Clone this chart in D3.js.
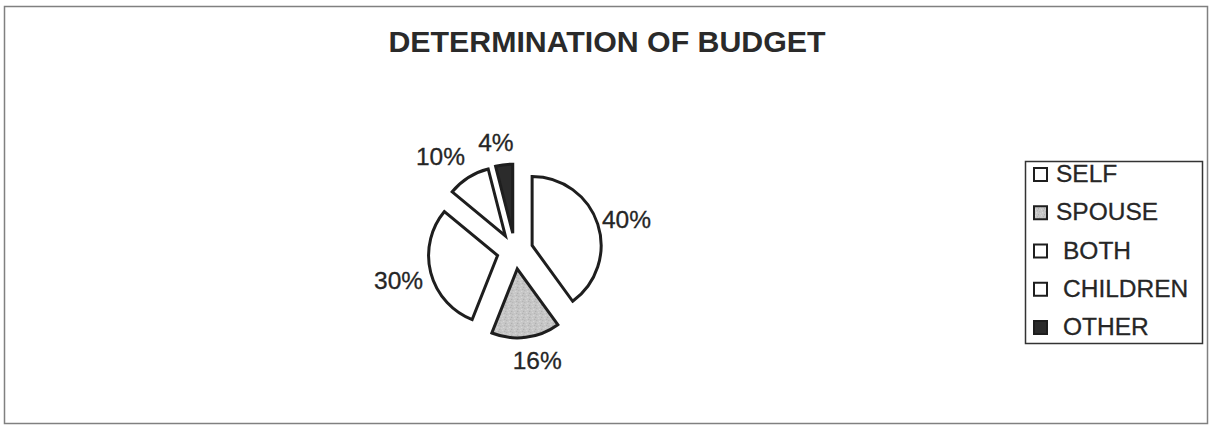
<!DOCTYPE html>
<html>
<head>
<meta charset="utf-8">
<script src="https://cdn.jsdelivr.net/npm/d3@7"></script>
<style>
  html, body { margin: 0; padding: 0; background: #ffffff; }
  svg { display: block; font-family: "Liberation Sans", Arial, sans-serif; }
</style>
</head>
<body>
<svg id="chart" width="1210" height="425"></svg>
<script>
// Who sets the household budget (share of respondents)
const categories = ["SELF", "SPOUSE", "BOTH", "CHILDREN", "OTHER"];
const shares = [40, 16, 30, 10, 4];
const pctLabels = ["40%", "16%", "30%", "10%", "4%"];
const chartTitle = "DETERMINATION OF BUDGET";

// slice fills, in category order
const fills = ["#ffffff", "url(#stipple)", "#ffffff", "#ffffff", "#2b2b2b"];
// small shifts that keep neighbouring percentage labels apart
const labelNudge = [[4, 3], [8, -3], [-7, 1], [-14, 1], [-5, 3]];

const svg = d3.select("#chart");
const ink = "#1e1e1e";

// stippled grey texture for the SPOUSE slice
const defs = svg.append("defs");
const pat = defs.append("pattern")
  .attr("id", "stipple").attr("patternUnits", "userSpaceOnUse")
  .attr("width", 6).attr("height", 6);
pat.append("rect").attr("width", 6).attr("height", 6).attr("fill", "#c6c6c6");
[[0,0,"#a4a4a4"],[3,1,"#dcdcdc"],[1,3,"#b0b0b0"],[4,4,"#e0e0e0"],[5,2,"#acacac"],[2,5,"#d6d6d6"]]
  .forEach(([x, y, c]) => pat.append("rect").attr("x", x).attr("y", y)
    .attr("width", 1).attr("height", 1).attr("fill", c));

// outer frame
svg.append("rect")
  .attr("x", 4.5).attr("y", 6.5).attr("width", 1203).attr("height", 417)
  .attr("fill", "#fff").attr("stroke", "#808080").attr("stroke-width", 1.5);

// title
svg.append("text")
  .attr("x", 607).attr("y", 52)
  .attr("text-anchor", "middle")
  .attr("font-size", 30.3).attr("font-weight", "bold")
  .attr("fill", "#2a2a2a")
  .text(chartTitle);

// exploded pie
const cx = 515, cy = 251, radius = 69, explode = 18, labelRadius = 113;
const pie = d3.pie().sort(null).value(d => d);
const arc = d3.arc().innerRadius(0).outerRadius(radius);
const arcs = pie(shares);

const pieG = svg.append("g").attr("transform", `translate(${cx},${cy})`);

const mid = d => (d.startAngle + d.endAngle) / 2;

pieG.selectAll("path.slice")
  .data(arcs)
  .join("path")
  .attr("class", "slice")
  .attr("transform", d => `translate(${Math.sin(mid(d)) * explode},${-Math.cos(mid(d)) * explode})`)
  .attr("d", arc)
  .attr("fill", (d, i) => fills[i])
  .attr("stroke", ink)
  .attr("stroke-width", 3)
  .attr("stroke-linejoin", "miter");

// percentage labels outside each slice
const labelSize = 24.5;
pieG.selectAll("text.pct")
  .data(arcs)
  .join("text")
  .attr("class", "pct")
  .attr("text-anchor", "middle")
  .attr("font-size", labelSize)
  .attr("fill", "#262626")
  .attr("stroke", "#262626").attr("stroke-width", 0.3)
  .attr("x", (d, i) => Math.sin(mid(d)) * labelRadius + labelNudge[i][0])
  .attr("y", (d, i) => -Math.cos(mid(d)) * labelRadius + labelNudge[i][1] + labelSize * 0.36)
  .text((d, i) => pctLabels[i]);

// legend
const lgX = 1025, lgY = 161, lgW = 177, lgH = 182;
const legend = svg.append("g");
legend.append("rect")
  .attr("x", lgX + 0.5).attr("y", lgY + 0.5)
  .attr("width", lgW).attr("height", lgH)
  .attr("fill", "#fff").attr("stroke", "#333").attr("stroke-width", 1.5);

const rowY = d3.scalePoint().domain(categories).range([182, 335]);
const rows = legend.selectAll("g.row")
  .data(categories)
  .join("g")
  .attr("class", "row")
  .attr("transform", d => `translate(0,${rowY(d)})`);

rows.append("rect")
  .attr("x", 1034).attr("y", -14)
  .attr("width", 13).attr("height", 13)
  .attr("fill", (d, i) => fills[i])
  .attr("stroke", ink).attr("stroke-width", 2);

rows.append("text")
  .attr("x", (d, i) => i < 2 ? 1056 : 1063)
  .attr("y", 0)
  .attr("font-size", 24.5)
  .attr("fill", "#262626")
  .attr("stroke", "#262626").attr("stroke-width", 0.3)
  .text(d => d);
</script>
</body>
</html>
